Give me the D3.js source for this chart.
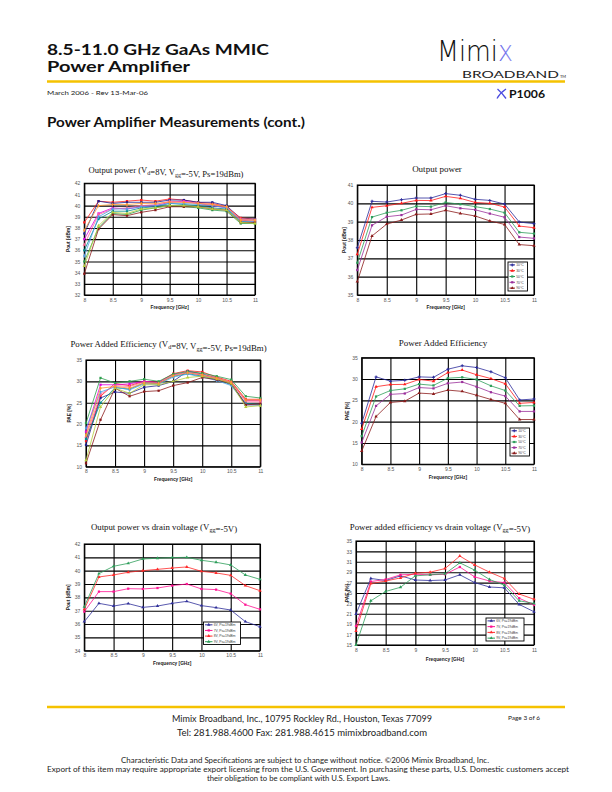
<!DOCTYPE html>
<html><head><meta charset="utf-8">
<script src="https://cdn.jsdelivr.net/npm/d3@7"></script>
<style>body{margin:0;background:#fff} svg{display:block}</style>
</head><body>
<svg id="page" width="612" height="792"></svg>
<script>
// ---------- DATA ----------
const freqs = [8, 8.25, 8.5, 8.75, 9, 9.25, 9.5, 9.75, 10, 10.25, 10.5, 10.75, 11];
const freqTicks = [8, 8.5, 9, 9.5, 10, 10.5, 11];
const freqTickLabels = ["8", "8.5", "9", "9.5", "10", "10.5", "11"];

// Chart 1: Output power, several devices (dBm)
const poutDev1 = [38.5, 40.4, 40.3, 40.4, 40.5, 40.4, 40.6, 40.5, 40.3, 40.2, 39.9, 38.9, 38.8];
const poutDev2 = [37.5, 40.4, 40.2, 40.3, 40.3, 40.3, 40.5, 40.5, 40.3, 40.3, 40.0, 38.8, 38.8];
const poutDev3 = [37.0, 39.3, 39.8, 39.7, 39.9, 40.0, 40.3, 40.4, 40.2, 40.0, 39.8, 38.7, 38.6];
const poutDev4 = [36.5, 39.2, 39.7, 39.8, 40.0, 40.1, 40.4, 40.3, 40.2, 40.1, 39.9, 38.8, 38.7];
const poutDev5 = [36.0, 38.8, 39.5, 39.5, 39.8, 39.9, 40.2, 40.1, 40.0, 39.8, 39.7, 38.6, 38.5];
const poutDev6 = [35.5, 39.0, 39.7, 39.7, 39.9, 40.0, 40.2, 40.2, 40.1, 40.0, 39.8, 38.6, 38.6];
const poutDev7 = [35.0, 38.0, 39.3, 39.2, 39.6, 39.8, 40.0, 39.9, 39.8, 39.6, 39.5, 38.4, 38.4];
const poutDev8 = [33.9, 37.9, 39.2, 39.1, 39.4, 39.6, 39.9, 39.9, 39.9, 39.7, 39.6, 38.5, 38.5];
const poutDev9 = [34.6, 38.2, 39.4, 39.3, 39.7, 39.8, 40.0, 40.0, 39.9, 39.7, 39.6, 38.5, 38.4];
const poutDev10 = [37.8, 40.0, 40.1, 40.1, 40.2, 40.2, 40.3, 40.3, 40.2, 40.1, 39.9, 38.7, 38.7];

// Chart 2: Output power vs temperature (dBm)
const tempLabels = ["10°C", "30°C", "50°C", "70°C", "90°C"];
const poutT10 = [37.58, 40.11, 40.07, 40.2, 40.29, 40.29, 40.53, 40.44, 40.22, 40.16, 39.96, 38.98, 38.89];
const poutT30 = [37.22, 39.78, 39.87, 40.0, 40.16, 40.15, 40.38, 40.27, 40.05, 40.0, 39.8, 38.76, 38.67];
const poutT50 = [36.76, 39.25, 39.49, 39.62, 39.84, 39.82, 40.05, 39.95, 39.82, 39.69, 39.49, 38.42, 38.35];
const poutT70 = [36.36, 38.8, 39.27, 39.36, 39.67, 39.65, 39.87, 39.73, 39.65, 39.44, 39.24, 38.16, 38.09];
const poutT90 = [35.73, 38.22, 38.87, 39.09, 39.4, 39.42, 39.62, 39.45, 39.31, 39.04, 38.85, 37.75, 37.69];

// Chart 3: PAE, several devices (%)
const paeDev1 = [16.0, 26.5, 29.5, 29.0, 30.0, 29.8, 31.8, 32.5, 32.2, 31.0, 30.0, 25.8, 25.8];
const paeDev2 = [15.1, 26.1, 27.5, 27.2, 28.6, 29.0, 30.0, 32.4, 31.7, 30.8, 29.6, 24.5, 24.5];
const paeDev3 = [18.2, 29.2, 29.2, 29.4, 30.0, 29.7, 31.5, 32.1, 31.4, 30.6, 29.8, 25.5, 25.5];
const paeDev4 = [17.0, 27.0, 29.0, 28.8, 29.8, 29.6, 31.6, 32.3, 31.6, 30.8, 29.7, 25.2, 25.2];
const paeDev5 = [16.5, 25.0, 28.5, 28.2, 29.6, 29.5, 31.2, 31.8, 31.2, 30.4, 29.2, 24.8, 24.6];
const paeDev6 = [19.0, 27.5, 28.7, 28.0, 29.4, 29.3, 31.0, 31.7, 31.0, 30.2, 29.0, 24.6, 24.4];
const paeDev7 = [20.2, 30.8, 29.6, 30.0, 30.5, 30.0, 31.7, 32.3, 31.9, 31.2, 30.4, 26.5, 26.1];
const paeDev8 = [10.8, 21.0, 28.4, 26.5, 27.6, 27.8, 29.0, 29.7, 30.9, 30.4, 29.4, 24.5, 24.7];
const paeDev9 = [11.5, 24.0, 28.4, 27.2, 29.2, 29.2, 30.0, 30.9, 31.2, 30.6, 29.5, 24.0, 24.3];
const paeDev10 = [17.4, 28.4, 28.8, 28.4, 29.6, 29.5, 31.3, 32.0, 31.5, 30.7, 29.8, 25.6, 25.6];

// Chart 4: PAE vs temperature (%)
const paeT10 = [19.6, 30.5, 29.5, 29.7, 30.5, 30.4, 32.3, 33.1, 32.7, 31.7, 30.3, 25.1, 25.3];
const paeT30 = [18.3, 28.2, 28.7, 28.75, 29.9, 29.5, 31.5, 32.1, 31.0, 30.1, 28.9, 24.3, 24.5];
const paeT50 = [16.6, 25.9, 27.3, 27.7, 28.8, 28.5, 30.2, 30.4, 29.9, 28.4, 27.3, 23.7, 23.75];
const paeT70 = [15.1, 23.7, 26.4, 26.6, 28.0, 27.8, 29.0, 29.3, 28.2, 26.9, 26.0, 22.4, 22.4];
const paeT90 = [13.1, 21.2, 24.5, 24.8, 26.7, 26.5, 27.4, 27.1, 26.2, 25.2, 24.3, 20.5, 20.5];

// Chart 5: Output power vs drain voltage (dBm)
const vdLabels = ["6V, Ps=19dBm", "7V, Ps=19dBm", "8V, Ps=19dBm", "9V, Ps=19dBm"];
const poutV6 = [36.18, 37.55, 37.35, 37.53, 37.25, 37.35, 37.55, 37.7, 37.38, 37.23, 37.05, 36.18, 35.8];
const poutV7 = [36.93, 38.43, 38.43, 38.65, 38.63, 38.7, 38.88, 39.0, 38.63, 38.58, 38.28, 37.45, 37.1];
const poutV8 = [37.1, 39.53, 39.68, 39.88, 40.0, 40.1, 40.2, 40.28, 39.95, 39.83, 39.65, 38.88, 38.5];
const poutV9 = [37.3, 39.78, 40.33, 40.55, 40.88, 40.93, 40.98, 41.0, 40.78, 40.63, 40.43, 39.68, 39.35];

// Chart 6: PAE vs drain voltage (%)
const paeV6 = [20.96, 27.8, 27.4, 28.3, 27.5, 27.4, 27.5, 28.5, 27.0, 26.15, 26.0, 22.8, 21.4];
const paeV7 = [18.65, 27.2, 27.6, 28.5, 28.6, 28.5, 28.6, 30.0, 28.1, 27.3, 27.0, 24.0, 22.7];
const paeV8 = [17.7, 26.8, 27.3, 27.9, 28.8, 29.0, 29.7, 32.1, 30.4, 29.0, 27.8, 24.8, 23.8];
const paeV9 = [15.0, 23.5, 25.3, 26.1, 28.3, 28.5, 28.7, 30.8, 29.4, 27.6, 26.5, 23.5, 23.0];

const ticksPout1 = [32, 33, 34, 35, 36, 37, 38, 39, 40, 41, 42];
const ticksPout2 = [35, 36, 37, 38, 39, 40, 41];
const ticksPae = [10, 15, 20, 25, 30, 35];
const ticksPout5 = [34, 35, 36, 37, 38, 39, 40, 41, 42];
const ticksPae6 = [15, 17, 19, 21, 23, 25, 27, 29, 31, 33, 35];

// ---------- STYLES ----------
const devColors = ["#FF1A1A", "#20208F", "#E000E0", "#FF6699", "#008B8B", "#4FA0E8", "#2E9E4E", "#8B1A1A", "#B5CC3A", "#FF9933"];
const devSymbols = [d3.symbolSquare, d3.symbolSquare, d3.symbolSquare, d3.symbolTriangle, d3.symbolSquare, d3.symbolDiamond, d3.symbolSquare, d3.symbolSquare, d3.symbolTriangle, d3.symbolDiamond];
const tempColors = ["#2B2B9B", "#FF1A1A", "#2E9E5B", "#9B309B", "#8B1A1A"];
const tempSymbols = [d3.symbolCross, d3.symbolTriangle, d3.symbolSquare, d3.symbolSquare, d3.symbolTriangle];
const vdColors = ["#30309A", "#FF1493", "#FF2A2A", "#2E9E5B"];
const vdSymbols = [d3.symbolTriangle, d3.symbolSquare, d3.symbolTriangle, d3.symbolTriangle];

const svg = d3.select("#page");
const SANS = "'Liberation Sans', Arial, sans-serif";
const SERIF = "'Liberation Serif', 'Times New Roman', serif";
const HUM = "Lato, 'Open Sans', sans-serif";

function drawChart(c) {
  const g = svg.append("g");
  const x = d3.scaleLinear().domain([8, 11]).range([c.left, c.right]);
  const y = d3.scaleLinear().domain([c.yTicks[0], c.yTicks[c.yTicks.length - 1]]).range([c.bottom, c.top]);
  const w = c.right - c.left, h = c.bottom - c.top;

  const gx = g.append("g").attr("transform", `translate(0,${c.bottom})`)
    .call(d3.axisBottom(x).tickValues(freqTicks).tickFormat((d, i) => freqTickLabels[i]).tickSize(-h).tickPadding(3));
  const gy = g.append("g").attr("transform", `translate(${c.left},0)`)
    .call(d3.axisLeft(y).tickValues(c.yTicks).tickFormat(d3.format("d")).tickSize(-w).tickPadding(4));
  [gx, gy].forEach(a => {
    a.attr("font-size", 5).attr("font-family", SANS);
    a.select(".domain").remove();
    a.selectAll(".tick line").attr("stroke", "#000").attr("stroke-width", 1.1);
    a.selectAll(".tick text").attr("fill", "#555");
  });
  g.append("rect").attr("x", c.left).attr("y", c.top).attr("width", w).attr("height", h)
    .attr("fill", "none").attr("stroke", "#000").attr("stroke-width", 1.1);

  const line = d3.line().x((d, i) => x(freqs[i])).y(d => y(d));
  c.series.forEach((s, k) => {
    g.append("path").attr("d", line(s)).attr("fill", "none")
      .attr("stroke", c.colors[k]).attr("stroke-width", 0.8);
    g.selectAll(null).data(s).enter().append("path")
      .attr("d", d3.symbol().type(c.symbols[k]).size(5))
      .attr("transform", (d, i) => `translate(${x(freqs[i])},${y(d)})`)
      .attr("fill", c.colors[k]);
  });

  // title
  const ts = c.titleSize || 8.8;
  const t = g.append("text").attr("x", c.titleX).attr("y", c.titleY).attr("text-anchor", "middle")
    .attr("font-family", SERIF).attr("font-size", ts).attr("fill", "#111");
  c.title.forEach(p => {
    if (p.sub) {
      t.append("tspan").attr("font-size", ts * 0.7).attr("dy", 2).text(p.sub);
      t.append("tspan").attr("dy", -2).text("");
    } else t.append("tspan").text(p.t);
  });

  g.append("text").attr("x", (c.left + c.right) / 2).attr("y", c.xLabelY).attr("text-anchor", "middle")
    .attr("font-family", SANS).attr("font-weight", "bold").attr("font-size", 4.8).attr("fill", "#222").text("Frequency [GHz]");
  g.append("text").attr("transform", `translate(${c.yLabelX},${(c.top + c.bottom) / 2}) rotate(-90)`)
    .attr("text-anchor", "middle").attr("font-family", SANS).attr("font-weight", "bold").attr("font-size", 4.8)
    .attr("fill", "#222").text(c.yLabel);

  if (c.legend) {
    const L = c.legend;
    const lg = g.append("g");
    lg.append("rect").attr("x", L.x).attr("y", L.y).attr("width", L.w).attr("height", L.h)
      .attr("fill", "#fff").attr("stroke", "#000").attr("stroke-width", 0.9);
    const rowH = L.h / L.labels.length;
    L.labels.forEach((lab, k) => {
      const cy = L.y + rowH * (k + 0.5);
      lg.append("line").attr("x1", L.x + 1.5).attr("x2", L.x + L.lineW).attr("y1", cy).attr("y2", cy)
        .attr("stroke", c.colors[k]).attr("stroke-width", 1);
      lg.append("path").attr("d", d3.symbol().type(c.symbols[k]).size(5))
        .attr("transform", `translate(${L.x + 1.5 + (L.lineW - 1.5) / 2},${cy})`).attr("fill", c.colors[k]);
      lg.append("text").attr("x", L.x + L.lineW + 1.2).attr("y", cy + 1.2).attr("font-family", SANS)
        .attr("font-size", L.fs).attr("fill", "#444").text(lab);
    });
  }
}

const vTitle = (pre) => [{t: pre + "(V"}, {sub: "d"}, {t: "=8V, V"}, {sub: "gg"}, {t: "=-5V, Ps=19dBm)"}];

drawChart({
  left: 84.3, right: 255, top: 183.3, bottom: 295, yTicks: ticksPout1,
  series: [poutDev1, poutDev2, poutDev3, poutDev4, poutDev5, poutDev6, poutDev7, poutDev8, poutDev9, poutDev10],
  colors: devColors, symbols: devSymbols,
  title: vTitle("Output power "), titleX: 166, titleY: 172.5, titleSize: 8.6,
  xLabelY: 308.5, yLabelX: 70, yLabel: "Pout [dBm]"
});
drawChart({
  left: 357.3, right: 534, top: 185, bottom: 295, yTicks: ticksPout2,
  series: [poutT10, poutT30, poutT50, poutT70, poutT90],
  colors: tempColors, symbols: tempSymbols,
  title: [{t: "Output power"}], titleX: 437, titleY: 171.5, titleSize: 9,
  xLabelY: 308.5, yLabelX: 346, yLabel: "Pout [dBm]",
  legend: {x: 508, y: 262, w: 19.5, h: 29, labels: tempLabels, lineW: 7, fs: 3.4}
});
drawChart({
  left: 86, right: 260.3, top: 360, bottom: 466.7, yTicks: ticksPae,
  series: [paeDev1, paeDev2, paeDev3, paeDev4, paeDev5, paeDev6, paeDev7, paeDev8, paeDev9, paeDev10],
  colors: devColors, symbols: devSymbols,
  title: vTitle("Power Added Efficiency "), titleX: 168.5, titleY: 346.5, titleSize: 8.8,
  xLabelY: 480.5, yLabelX: 71, yLabel: "PAE [%]"
});
drawChart({
  left: 361.7, right: 534, top: 357.7, bottom: 464.3, yTicks: ticksPae,
  series: [paeT10, paeT30, paeT50, paeT70, paeT90],
  colors: tempColors, symbols: tempSymbols,
  title: [{t: "Power Added Efficiency"}], titleX: 443, titleY: 346, titleSize: 9,
  xLabelY: 478.5, yLabelX: 349, yLabel: "PAE [%]",
  legend: {x: 510, y: 428, w: 19.5, h: 28, labels: tempLabels, lineW: 7, fs: 3.4}
});
drawChart({
  left: 84.3, right: 260, top: 544, bottom: 650.7, yTicks: ticksPout5,
  series: [poutV6, poutV7, poutV8, poutV9],
  colors: vdColors, symbols: vdSymbols,
  title: [{t: "Output power vs drain voltage (V"}, {sub: "gg"}, {t: "=-5V)"}], titleX: 164, titleY: 529.5, titleSize: 8.8,
  xLabelY: 665, yLabelX: 70, yLabel: "Pout [dBm]",
  legend: {x: 203.5, y: 622, w: 37, h: 22.5, labels: vdLabels, lineW: 9, fs: 3.3}
});
drawChart({
  left: 356, right: 534, top: 541, bottom: 645, yTicks: ticksPae6,
  series: [paeV6, paeV7, paeV8, paeV9],
  colors: vdColors, symbols: vdSymbols,
  title: [{t: "Power added efficiency vs drain voltage (V"}, {sub: "gg"}, {t: "=-5V)"}], titleX: 440, titleY: 529.5, titleSize: 8.8,
  xLabelY: 661, yLabelX: 349, yLabel: "PAE [%]",
  legend: {x: 486, y: 618, w: 38, h: 23, labels: vdLabels, lineW: 9, fs: 3.3}
});

// ---------- HEADER ----------
const defs = svg.append("defs");
const grad = defs.append("linearGradient").attr("id", "logoFill")
  .attr("x1", 0).attr("x2", 1).attr("y1", 0).attr("y2", 0);
grad.append("stop").attr("offset", "0.78").attr("stop-color", "#111");
grad.append("stop").attr("offset", "0.78").attr("stop-color", "#5A5AE6");
grad.append("stop").attr("offset", "1").attr("stop-color", "#8C8CF0");

const hdr = svg.append("g");
hdr.append("text").attr("x", 47).attr("y", 55).attr("font-family", HUM).attr("font-weight", "bold")
  .attr("font-size", 15).attr("fill", "#111").attr("textLength", 222).attr("lengthAdjust", "spacingAndGlyphs")
  .text("8.5-11.0 GHz GaAs MMIC");
hdr.append("text").attr("x", 47).attr("y", 71.5).attr("font-family", HUM).attr("font-weight", "bold")
  .attr("font-size", 15).attr("fill", "#111").attr("textLength", 143).attr("lengthAdjust", "spacingAndGlyphs")
  .text("Power Amplifier");
hdr.append("line").attr("x1", 47).attr("x2", 565).attr("y1", 81.5).attr("y2", 81.5)
  .attr("stroke", "#F5C200").attr("stroke-width", 2.4);
hdr.append("text").attr("x", 47).attr("y", 95).attr("font-family", HUM).attr("font-size", 6.5)
  .attr("fill", "#222").attr("textLength", 101).attr("lengthAdjust", "spacingAndGlyphs").text("March 2006 - Rev 13-Mar-06");
hdr.append("text").attr("x", 437).attr("y", 61).attr("font-family", "'DejaVu Sans', sans-serif")
  .attr("font-weight", 200).attr("font-size", 28).attr("fill", "url(#logoFill)")
  .attr("textLength", 76).attr("lengthAdjust", "spacingAndGlyphs").text("Mimix");
hdr.append("text").attr("x", 462).attr("y", 78).attr("font-family", HUM).attr("font-size", 9.5)
  .attr("fill", "#222").attr("textLength", 97).attr("lengthAdjust", "spacingAndGlyphs").text("BROADBAND");
hdr.append("text").attr("x", 560).attr("y", 78).attr("font-family", HUM).attr("font-size", 4)
  .attr("fill", "#222").text("TM");
hdr.append("path").attr("d", "M497.5,89 Q502,93 506,98.5 M506,89 Q500,93 497,98.5")
  .attr("fill", "none").attr("stroke", "#4A4AE0").attr("stroke-width", 1.3);
hdr.append("text").attr("x", 509).attr("y", 98).attr("font-family", HUM).attr("font-weight", "bold")
  .attr("font-size", 11.5).attr("fill", "#111").attr("textLength", 36).attr("lengthAdjust", "spacingAndGlyphs").text("P1006");
hdr.append("text").attr("x", 47).attr("y", 126.5).attr("font-family", HUM).attr("font-weight", "bold")
  .attr("font-size", 13).attr("fill", "#111").attr("textLength", 258).attr("lengthAdjust", "spacingAndGlyphs")
  .text("Power Amplifier Measurements (cont.)");

// ---------- FOOTER ----------
const ftr = svg.append("g").attr("font-family", HUM).attr("fill", "#222");
ftr.append("line").attr("x1", 47).attr("x2", 565).attr("y1", 707).attr("y2", 707)
  .attr("stroke", "#F5C200").attr("stroke-width", 2.4);
ftr.append("text").attr("x", 172).attr("y", 722).attr("font-size", 9.5).attr("textLength", 260)
  .attr("lengthAdjust", "spacingAndGlyphs").text("Mimix Broadband, Inc., 10795 Rockley Rd., Houston, Texas 77099");
ftr.append("text").attr("x", 177).attr("y", 736).attr("font-size", 9.5).attr("textLength", 250)
  .attr("lengthAdjust", "spacingAndGlyphs").text("Tel: 281.988.4600  Fax: 281.988.4615  mimixbroadband.com");
ftr.append("text").attr("x", 508).attr("y", 720).attr("font-size", 6.5).attr("textLength", 32)
  .attr("lengthAdjust", "spacingAndGlyphs").text("Page 3 of 6");
ftr.append("text").attr("x", 121).attr("y", 763).attr("font-size", 7).attr("textLength", 368)
  .attr("lengthAdjust", "spacingAndGlyphs").text("Characteristic Data and Specifications are subject to change without notice. ©2006 Mimix Broadband, Inc.");
ftr.append("text").attr("x", 47).attr("y", 772).attr("font-size", 7).attr("textLength", 522)
  .attr("lengthAdjust", "spacingAndGlyphs").text("Export of this item may require appropriate export licensing from the U.S. Government. In purchasing these parts, U.S. Domestic customers accept");
ftr.append("text").attr("x", 207).attr("y", 781).attr("font-size", 7).attr("textLength", 183)
  .attr("lengthAdjust", "spacingAndGlyphs").text("their obligation to be compliant with U.S. Export Laws.");
</script>
</body></html>
